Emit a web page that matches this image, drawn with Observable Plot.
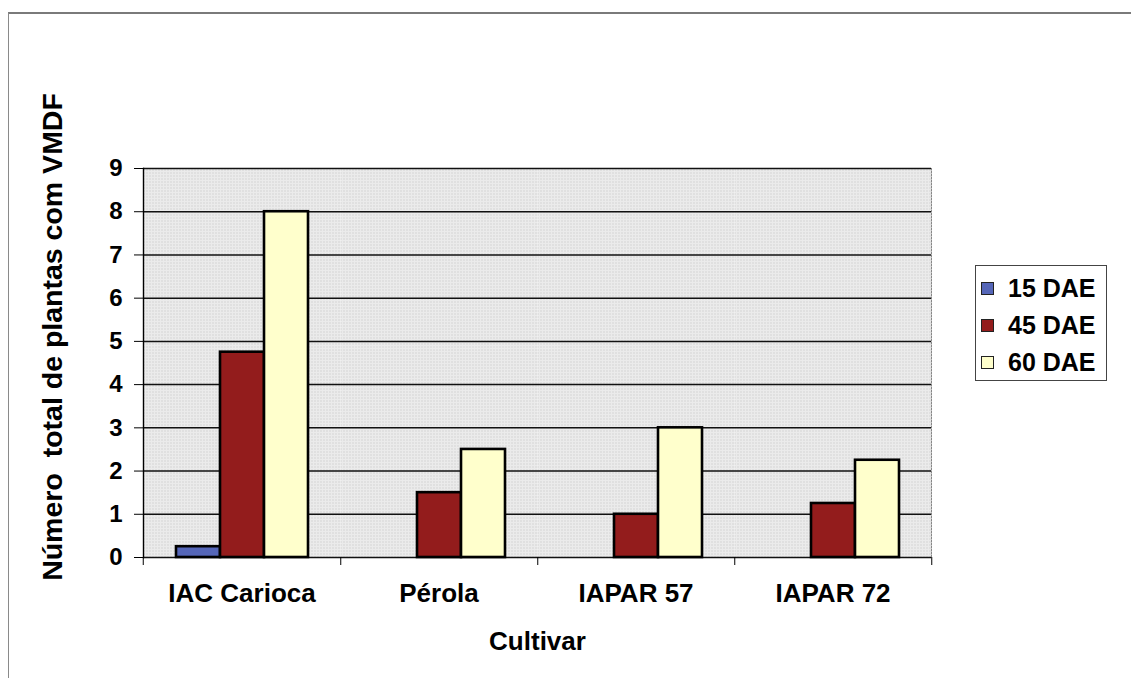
<!DOCTYPE html>
<html>
<head>
<meta charset="utf-8">
<script src="https://cdn.jsdelivr.net/npm/d3@7"></script>
<script src="https://cdn.jsdelivr.net/npm/@observablehq/plot@0.6"></script>
<style>
  html, body { margin: 0; padding: 0; background: #fff; }
  #wrap { position: relative; width: 1131px; height: 678px; overflow: hidden; background: #fff;
          font-family: "Liberation Sans", Arial, sans-serif; font-weight: bold; color: #000; }
  #border { position: absolute; left: 8px; top: 12px; width: 1140px; height: 700px;
            border-left: 1px solid #8a8a8a; border-top: 2px solid #7a7a7a; }
  #chart { position: absolute; left: 0; top: 0; }
  #ytitle { position: absolute; left: 52px; top: 337px; transform: translate(-50%, -50%) rotate(-90deg);
            white-space: pre; font-size: 28.5px; }
  #legend { position: absolute; left: 975px; top: 265px; width: 132px; height: 116px;
            border: 1px solid #444; box-sizing: border-box; background: #fff; }
  .row { position: absolute; left: 5px; height: 26px; display: flex; align-items: center; font-size: 25px; }
  .sw { width: 11px; height: 11px; border: 1px solid #222; margin-right: 14px; }
</style>
</head>
<body>
<div id="wrap">
  <div id="border"></div>
  <div id="chart"></div>
  <div id="ytitle"></div>
  <div id="legend"></div>
</div>
<script>
// ---- data ----
const cultivars = ["IAC Carioca", "Pérola", "IAPAR 57", "IAPAR 72"];
const series = ["15 DAE", "45 DAE", "60 DAE"];
const values15 = [0.25, 0, 0, 0];
const values45 = [4.75, 1.5, 1, 1.25];
const values60 = [8, 2.5, 3, 2.25];
const yTicks = [0, 1, 2, 3, 4, 5, 6, 7, 8, 9];
const seriesColors = ["#5566b8", "#931c1c", "#ffffcc"];
const yTitle = "Número  total de plantas com VMDF";
const xTitle = "Cultivar";

const table = [];
const seriesValues = [values15, values45, values60];
series.forEach((s, si) => cultivars.forEach((c, ci) => table.push({cultivar: c, series: s, value: seriesValues[si][ci]})));

const W = 960, H = 678, ML = 142, MR = 28, MT = 168, MB = 121;
const step = (W - ML - MR) / cultivars.length;

const chart = Plot.plot({
  width: W, height: H,
  marginLeft: ML, marginRight: MR, marginTop: MT, marginBottom: MB,
  style: {fontFamily: '"Liberation Sans", Arial, sans-serif', fontWeight: "bold", color: "#000", background: "transparent", overflow: "visible"},
  fx: {domain: cultivars, padding: 0, label: xTitle},
  x: {domain: series, paddingInner: 0, paddingOuter: 0.7, axis: null},
  y: {domain: [0, 9], label: null},
  color: {domain: series, range: seriesColors},
  marks: [
    Plot.frame({fill: "url(#dots)"}),
    Plot.gridY(yTicks, {stroke: "#111", strokeOpacity: 1, strokeWidth: 1.5}),
    Plot.frame({anchor: "right", facetAnchor: "right", stroke: "#888", strokeDasharray: "1.5,1.5"}),
    Plot.barY(table, {fx: "cultivar", x: "series", y: "value", fill: "series", stroke: "#000", strokeWidth: 2.6, filter: d => d.value > 0}),
    Plot.axisY(yTicks, {tickSize: 9, tickPadding: 12, fontSize: 24, label: null, stroke: "#000"}),
    Plot.frame({anchor: "left", facetAnchor: "left", stroke: "#000", strokeWidth: 1.4}),
    Plot.axisFx({anchor: "bottom", tickSize: 0, tickPadding: 26, fontSize: 26, label: xTitle, labelAnchor: "center", labelOffset: 92}),
    Plot.axisFx({anchor: "bottom", tickSize: 8, tickFormat: () => "", dx: step / 2, label: null, stroke: "#000"}),
    Plot.axisFx({anchor: "bottom", ticks: [cultivars[0]], tickSize: 8, tickFormat: () => "", dx: -step / 2, label: null, stroke: "#000"})
  ]
});

const svg = chart.tagName.toLowerCase() === "svg" ? chart : chart.querySelector("svg");
const ns = "http://www.w3.org/2000/svg";
const defs = document.createElementNS(ns, "defs");
defs.innerHTML = '<pattern id="dots" width="3" height="3" patternUnits="userSpaceOnUse">' +
  '<rect width="3" height="3" fill="#ebebeb"></rect><rect x="1" y="1" width="1" height="1" fill="#bdbdbd"></rect></pattern>';
svg.insertBefore(defs, svg.firstChild);
document.getElementById("chart").appendChild(chart);

document.getElementById("ytitle").textContent = yTitle;

const legend = document.getElementById("legend");
series.forEach((s, i) => {
  const row = document.createElement("div");
  row.className = "row";
  row.style.top = (9 + i * 37) + "px";
  const sw = document.createElement("span");
  sw.className = "sw";
  sw.style.background = seriesColors[i];
  const t = document.createElement("span");
  t.textContent = s;
  row.appendChild(sw); row.appendChild(t);
  legend.appendChild(row);
});
</script>
</body>
</html>
